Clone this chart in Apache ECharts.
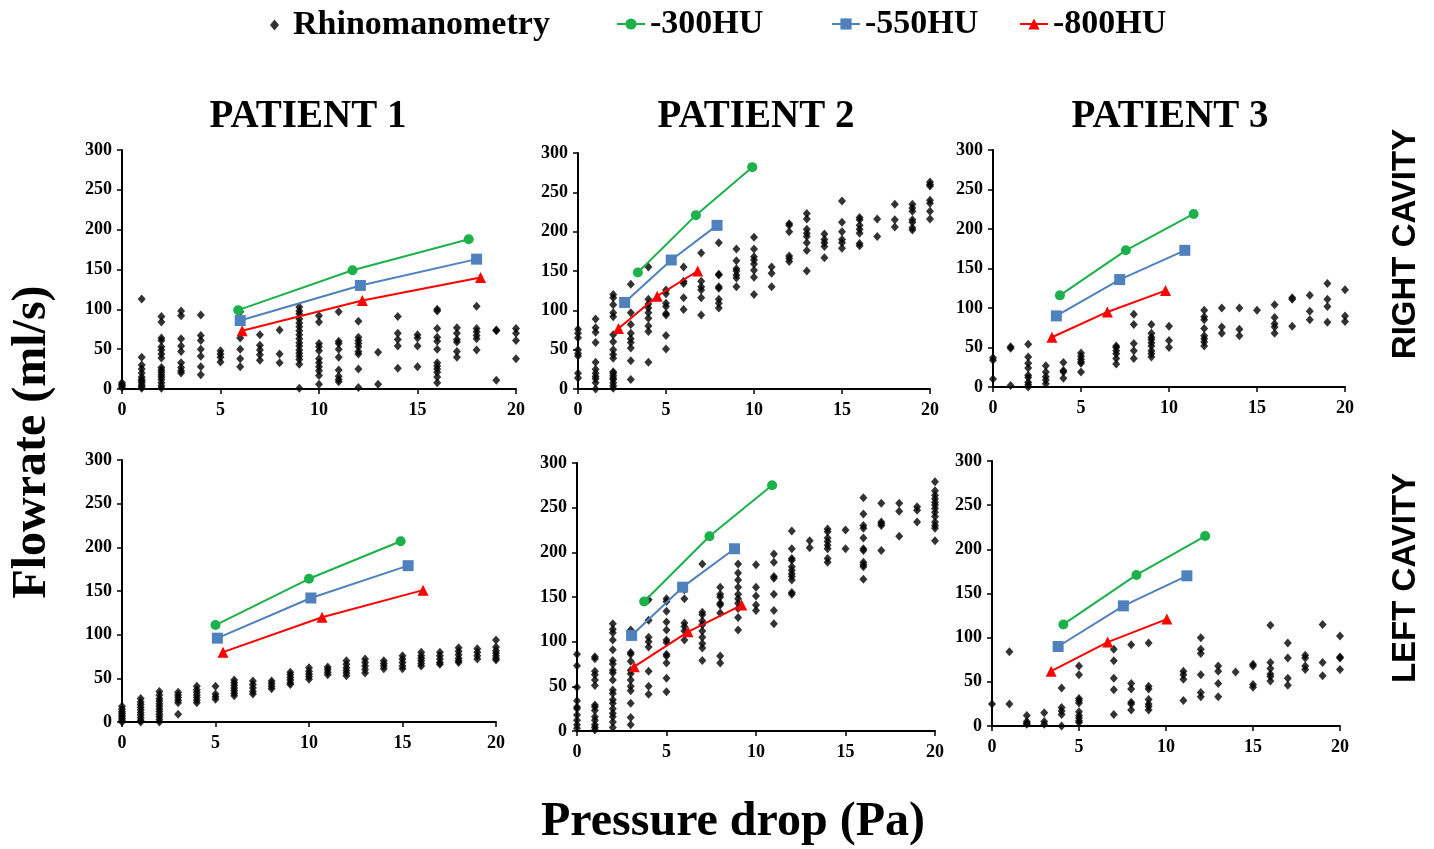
<!DOCTYPE html>
<html><head><meta charset="utf-8">
<script src="https://cdn.jsdelivr.net/npm/echarts@6/dist/echarts.min.js"></script>
<style>html,body{margin:0;padding:0;background:#fff}#c{width:1434px;height:849px}</style>
</head><body><div id="c"></div>
<script>
// ---------- text ----------
const patientTitles = ['PATIENT 1', 'PATIENT 2', 'PATIENT 3'];
const cavityLabels = ['RIGHT CAVITY', 'LEFT CAVITY'];
const yAxisTitle = 'Flowrate (ml/s)';
const xAxisTitle = 'Pressure drop (Pa)';
const seriesNames = ['Rhinomanometry', '-300HU', '-550HU', '-800HU'];

// ---------- axis ticks ----------
const xMin = 0, xMax = 20, xStep = 5;
const yMin = 0, yMax = 300, yStep = 50;

// ---------- Rhinomanometry scatter: [pressure drop, [flowrates...]] ----------
const rhinoP1Right = [
  [0, [2, 4, 6, 8]],
  [1, [113, 40, 30, 25, 20, 15, 12, 10, 8, 5, 3, 1]],
  [2, [91, 84, 64, 61, 53, 49, 44, 39, 27, 24, 21, 18, 15, 12, 8, 4, 1]],
  [3, [98, 92, 63, 54, 47, 33, 27, 23, 20]],
  [4, [93, 67, 61, 50, 41, 28, 18]],
  [5, [48, 44, 40, 34]],
  [6, [97, 64, 50, 38, 28]],
  [7, [68, 55, 49, 43, 36]],
  [8, [74, 44, 33]],
  [9, [103, 98, 94, 88, 83, 78, 73, 68, 63, 58, 54, 49, 45, 41, 37, 31, 1]],
  [10, [92, 84, 57, 53, 48, 38, 33, 28, 23, 17, 6]],
  [11, [97, 60, 57, 50, 40, 24, 16, 12, 9]],
  [12, [85, 65, 61, 57, 53, 47, 44, 25, 2]],
  [13, [46, 6]],
  [14, [91, 70, 62, 54, 26]],
  [15, [68, 64, 54, 28]],
  [16, [100, 98, 76, 65, 60, 50, 33, 29, 25, 21, 15, 8]],
  [17, [77, 70, 62, 59, 47, 40]],
  [18, [104, 76, 72, 67, 63, 49]],
  [19, [74, 73, 11]],
  [20, [76, 70, 61, 38]]
];
const rhinoP2Right = [
  [0, [76, 71, 65, 50, 45, 42, 20, 14]],
  [1, [89, 78, 72, 59, 34, 25, 20, 16, 13, 8, 0]],
  [2, [120, 116, 107, 97, 92, 69, 60, 50, 44, 39, 22, 20, 17, 14, 12, 8, 4, 1]],
  [3, [133, 97, 82, 71, 64, 59, 52, 36, 12]],
  [4, [155, 114, 108, 103, 97, 90, 80, 73, 34]],
  [5, [126, 121, 109, 105, 96, 94, 68, 51]],
  [6, [155, 137, 134, 116, 101]],
  [7, [173, 137, 130, 126, 116, 94]],
  [8, [186, 146, 145, 130, 128, 114, 109, 103]],
  [9, [178, 163, 153, 150, 145, 141, 130]],
  [10, [193, 178, 168, 164, 159, 151, 142, 120]],
  [11, [155, 147, 130]],
  [12, [210, 208, 200, 169, 166, 162]],
  [13, [223, 216, 203, 198, 194, 186, 176, 150]],
  [14, [197, 190, 186, 181, 167]],
  [15, [239, 212, 200, 190, 186, 179]],
  [16, [218, 215, 208, 203, 198, 185, 182]],
  [17, [216, 194]],
  [18, [235, 215, 206]],
  [19, [235, 230, 226, 215, 212, 205, 202]],
  [20, [263, 260, 258, 240, 236, 226, 216]]
];
const rhinoP3Right = [
  [0, [37, 34, 10]],
  [1, [51, 49, 2]],
  [2, [54, 38, 30, 24, 15, 12, 6, 3, 0]],
  [3, [27, 19, 13, 9, 4]],
  [4, [31, 21, 19, 11]],
  [5, [43, 39, 35, 32, 30, 19]],
  [7, [52, 50, 46, 42, 36, 29]],
  [8, [92, 79, 55, 46, 36]],
  [9, [79, 68, 63, 60, 56, 52, 46, 42, 38]],
  [10, [77, 59, 50]],
  [12, [97, 89, 85, 74, 65, 61, 57, 52]],
  [13, [100, 76, 68]],
  [14, [100, 73, 65]],
  [15, [97]],
  [16, [104, 88, 80, 76, 68]],
  [17, [113, 111, 77]],
  [18, [116, 96, 85]],
  [19, [131, 111, 102, 82]],
  [20, [123, 90, 83]]
];
const rhinoP1Left = [
  [0, [18, 15, 12, 10, 8, 6, 4, 2, 0]],
  [1, [27, 23, 20, 17, 14, 11, 8, 5, 2, 0]],
  [2, [35, 31, 27, 24, 21, 18, 15, 12, 9, 6, 3, 0]],
  [3, [34, 31, 28, 25, 22, 9]],
  [4, [41, 37, 34, 31, 28, 25, 22]],
  [5, [41, 32, 29, 26]],
  [6, [48, 45, 42, 39, 36, 33, 30]],
  [7, [47, 43, 39, 35, 32]],
  [8, [47, 44, 41, 38]],
  [9, [57, 54, 51, 48, 45, 43]],
  [10, [62, 58, 55, 52, 49]],
  [11, [63, 60, 57, 54]],
  [12, [70, 66, 62, 59, 56, 53]],
  [13, [72, 68, 64, 60, 56]],
  [14, [70, 67, 64, 61]],
  [15, [76, 72, 68, 64, 61]],
  [16, [80, 76, 73, 70, 67, 64]],
  [17, [80, 76, 72, 68, 66]],
  [18, [85, 81, 77, 73, 70, 68]],
  [19, [84, 80, 76, 72]],
  [20, [94, 86, 82, 79, 76, 73, 71]]
];
const rhinoP2Left = [
  [0, [86, 73, 49, 34, 27, 25, 18, 12, 7, 3]],
  [1, [83, 81, 67, 63, 57, 51, 29, 27, 23, 16, 12, 7, 4, 1]],
  [2, [120, 114, 110, 102, 91, 79, 75, 68, 65, 57, 46, 42, 35, 31, 25, 20, 16, 10, 4]],
  [3, [113, 88, 86, 78, 68, 64, 57, 50, 45, 31, 15, 7]],
  [4, [147, 124, 105, 100, 94, 67, 50, 41]],
  [5, [148, 145, 134, 122, 113, 102, 99, 86, 84, 76, 59, 44]],
  [6, [158, 148, 121, 117, 112, 102]],
  [7, [187, 133, 130, 123, 119, 112, 105, 98, 93, 79]],
  [8, [161, 153, 150, 143, 141, 132, 84, 76]],
  [9, [187, 177, 169, 161, 153, 148, 143, 137, 127, 113]],
  [10, [186, 161, 151, 141, 135]],
  [11, [198, 189, 173, 171, 153, 135, 120]],
  [12, [224, 204, 193, 191, 184, 180, 176, 173, 169, 155, 153]],
  [13, [213, 205]],
  [14, [226, 223, 216, 212, 208, 204, 193, 189]],
  [15, [225, 204]],
  [16, [261, 243, 230, 227, 216, 204, 202, 189, 186, 184, 170]],
  [17, [255, 234, 232, 230, 202]],
  [18, [255, 246, 218]],
  [19, [251, 247, 234]],
  [20, [279, 269, 264, 260, 256, 253, 249, 245, 240, 234, 230, 227, 213]]
];
const rhinoP3Left = [
  [0, [25]],
  [1, [84, 25]],
  [2, [12, 5, 3, 2]],
  [3, [15, 5, 2]],
  [4, [43, 21, 17, 13, 0]],
  [5, [68, 58, 31, 29, 26, 16, 12, 9, 6, 4]],
  [7, [87, 74, 54, 41, 13]],
  [8, [92, 48, 42, 27, 25, 18]],
  [9, [94, 45, 42, 30, 25, 22, 18]],
  [11, [62, 58, 53, 29]],
  [12, [100, 87, 82, 58, 38, 33]],
  [13, [68, 62, 48, 33]],
  [14, [61]],
  [15, [70, 68, 47, 44]],
  [16, [114, 72, 65, 59, 56, 51]],
  [17, [94, 77, 54, 46]],
  [18, [80, 77, 68, 64]],
  [19, [115, 72, 57]],
  [20, [102, 78, 77, 64]]
];

// ---------- CFD series: [pressure drop, flowrate] ----------
const p1Right300 = [[5.9, 99], [11.7, 149], [17.6, 188]];
const p1Right550 = [[6.0, 86], [12.1, 130], [18.0, 163]];
const p1Right800 = [[6.1, 73], [12.2, 111], [18.2, 140]];

const p2Right300 = [[3.4, 148], [6.7, 221], [9.9, 282]];
const p2Right550 = [[2.65, 110], [5.3, 164], [7.9, 208]];
const p2Right800 = [[2.3, 77], [4.5, 118], [6.8, 150]];

const p3Right300 = [[3.8, 116], [7.55, 173], [11.4, 219]];
const p3Right550 = [[3.6, 90], [7.2, 136], [10.9, 173]];
const p3Right800 = [[3.35, 63], [6.5, 95], [9.8, 122]];

const p1Left300 = [[5.0, 111], [10.0, 164], [14.9, 207]];
const p1Left550 = [[5.1, 96], [10.1, 142], [15.3, 179]];
const p1Left800 = [[5.4, 80], [10.7, 120], [16.1, 151]];

const p2Left300 = [[3.75, 145], [7.4, 218], [10.9, 275]];
const p2Left550 = [[3.05, 107], [5.9, 161], [8.8, 204]];
const p2Left800 = [[3.2, 72], [6.2, 111], [9.2, 141]];

const p3Left300 = [[4.1, 115], [8.3, 171], [12.25, 215]];
const p3Left550 = [[3.8, 90], [7.55, 136], [11.2, 170]];
const p3Left800 = [[3.4, 62], [6.65, 95], [10.05, 121]];

// ---------- assemble ----------
const panels = [
  { rhino: rhinoP1Right, s300: p1Right300, s550: p1Right550, s800: p1Right800 },
  { rhino: rhinoP2Right, s300: p2Right300, s550: p2Right550, s800: p2Right800 },
  { rhino: rhinoP3Right, s300: p3Right300, s550: p3Right550, s800: p3Right800 },
  { rhino: rhinoP1Left, s300: p1Left300, s550: p1Left550, s800: p1Left800 },
  { rhino: rhinoP2Left, s300: p2Left300, s550: p2Left550, s800: p2Left800 },
  { rhino: rhinoP3Left, s300: p3Left300, s550: p3Left550, s800: p3Left800 }
];
const gridBoxes = [
  { left: 122, top: 150, width: 394, height: 239 },
  { left: 578, top: 153, width: 352, height: 236 },
  { left: 993, top: 150, width: 352, height: 237 },
  { left: 122, top: 460, width: 374, height: 262 },
  { left: 577, top: 463, width: 358, height: 268 },
  { left: 992, top: 461, width: 348, height: 265 }
];

const SERIF = '"Liberation Serif", "Times New Roman", serif';
const SANS = '"Liberation Sans", Arial, sans-serif';
const GREEN = '#1db14b', BLUE = '#4f81bd', RED = '#ff0000';

const flatten = cols => {
  const out = [];
  cols.forEach(([x, ys]) => ys.forEach(y => out.push([x, y])));
  return out;
};

const axisCommon = {
  axisLine: { show: true, onZero: false, lineStyle: { color: '#000', width: 2 } },
  axisTick: { show: true, inside: false, length: 5, lineStyle: { color: '#000', width: 1.5 } },
  splitLine: { show: false },
  axisLabel: { color: '#000', fontFamily: SERIF, fontWeight: 'bold', fontSize: 18 }
};

const grid = [], xAxis = [], yAxis = [], series = [];
panels.forEach((p, i) => {
  grid.push(Object.assign({ containLabel: false }, gridBoxes[i]));
  xAxis.push(Object.assign({}, axisCommon, {
    type: 'value', gridIndex: i, min: xMin, max: xMax, interval: xStep,
    axisLabel: Object.assign({}, axisCommon.axisLabel, { margin: 12 })
  }));
  yAxis.push(Object.assign({}, axisCommon, {
    type: 'value', gridIndex: i, min: yMin, max: yMax, interval: yStep,
    axisLabel: Object.assign({}, axisCommon.axisLabel, { margin: 10 })
  }));
  series.push({
    name: seriesNames[0], type: 'scatter', xAxisIndex: i, yAxisIndex: i,
    symbol: 'diamond', symbolSize: [8, 9], itemStyle: { color: '#000' },
    data: flatten(p.rhino), z: 2
  });
  const lineDefs = [
    [seriesNames[1], p.s300, GREEN, 'circle', 10],
    [seriesNames[2], p.s550, BLUE, 'rect', 11],
    [seriesNames[3], p.s800, RED, 'triangle', 11]
  ];
  lineDefs.forEach(([name, data, color, sym, size]) => {
    series.push({
      name, type: 'line', xAxisIndex: i, yAxisIndex: i, data,
      symbol: sym, symbolSize: size, showSymbol: true,
      lineStyle: { color, width: 2 }, itemStyle: { color },
      z: 5
    });
  });
});

const legendText = { fontFamily: SERIF, fontWeight: 'bold', fontSize: 34, color: '#000' };
const legend = [
  { data: [seriesNames[0]], left: 265, top: 3, itemWidth: 9, itemHeight: 11,
    textStyle: Object.assign({}, legendText, { padding: [0, 0, 0, 9] }), selectedMode: false },
  { data: [seriesNames[1]], left: 611, top: 2, itemWidth: 28, itemHeight: 14, textStyle: legendText, selectedMode: false },
  { data: [seriesNames[2]], left: 826, top: 2, itemWidth: 28, itemHeight: 14, textStyle: legendText, selectedMode: false },
  { data: [seriesNames[3]], left: 1014, top: 2, itemWidth: 28, itemHeight: 14, textStyle: legendText, selectedMode: false }
];

const titleCenters = [308, 756, 1170];
const graphic = [];
patientTitles.forEach((t, i) => {
  graphic.push({
    type: 'text', x: titleCenters[i], y: 117,
    style: { text: t, font: 'bold 39px ' + SERIF, fill: '#000', align: 'center', verticalAlign: 'middle' }
  });
});
const rotText = (text, x, y, font) => ({
  type: 'text', x, y, rotation: Math.PI / 2,
  style: { text, font, fill: '#000', align: 'center', verticalAlign: 'middle' }
});
graphic.push(rotText(cavityLabels[0], 1406, 244, 'bold 33px ' + SANS));
graphic.push(rotText(cavityLabels[1], 1406, 578, 'bold 33px ' + SANS));
graphic.push(rotText(yAxisTitle, 33, 442, 'bold 48px ' + SERIF));
graphic.push({
  type: 'text', x: 733, y: 823,
  style: { text: xAxisTitle, font: 'bold 48px ' + SERIF, fill: '#000', align: 'center', verticalAlign: 'middle' }
});

const chart = echarts.init(document.getElementById('c'), null, { renderer: 'canvas' });
chart.setOption({
  backgroundColor: '#fff',
  animation: false,
  legend, grid, xAxis, yAxis, series, graphic
});
</script>
</body></html>
